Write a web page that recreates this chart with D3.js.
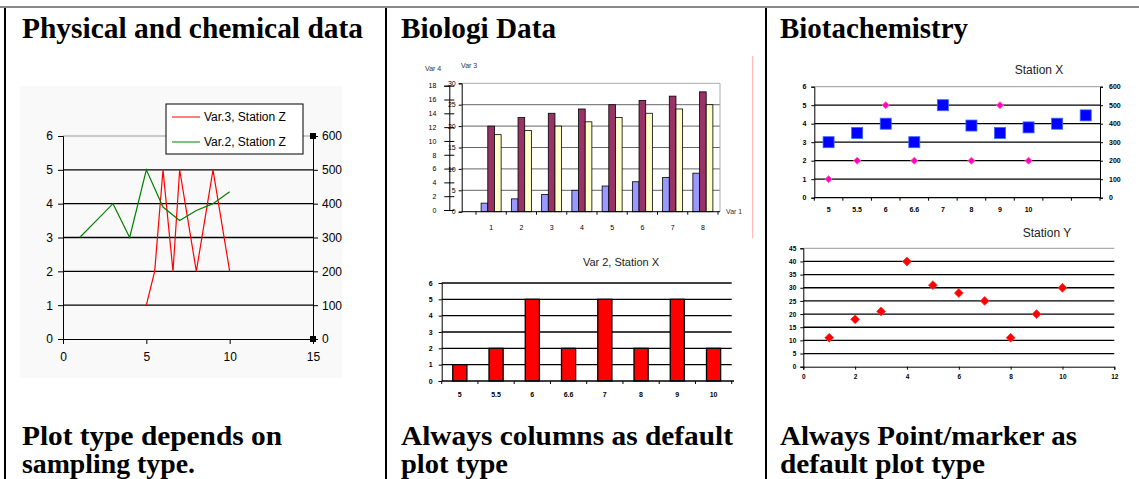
<!DOCTYPE html>
<html><head><meta charset="utf-8">
<script src="https://cdn.jsdelivr.net/npm/d3@7"></script>
<style>body{margin:0;background:#fff}svg{display:block}</style>
</head><body>
<script>
// ---- table text ----
const headers = ["Physical and chemical data", "Biologi Data", "Biotachemistry"];
const headerWidths = [341, 155, 188];
const footers = [["Plot type depends on", "sampling type."], ["Always columns as default", "plot type"], ["Always Point/marker as", "default plot type"]];
const footerWidths = [[260, 173], [332, 107], [297, 205]];

// ---- physical / chemical (line chart) ----
const zVar3X = [5, 5.5, 6, 6.6, 7, 8, 9, 10];
const zVar3 = [1, 2, 5, 2, 5, 2, 5, 2];
const zVar2X = [1, 2, 3, 4, 5, 6, 7, 8, 9, 10];
const zVar2 = [300, 350, 400, 300, 500, 390, 350, 380, 400, 435];
const physYTicks = [0, 1, 2, 3, 4, 5, 6];
const physY2Ticks = [0, 100, 200, 300, 400, 500, 600];
const physXTicks = [0, 5, 10, 15];
const physLegend = ["Var.3, Station Z", "Var.2, Station Z"];

// ---- biologi (grouped columns) ----
const bioCats = ["1", "2", "3", "4", "5", "6", "7", "8"];
const bioVar4 = [2, 3, 4, 5, 6, 7, 8, 9];
const bioVar3a = [20, 22, 23, 24, 25, 26, 27, 28];
const bioVar3b = [18, 19, 20, 21, 22, 23, 24, 25];
const bioY3Ticks = [0, 5, 10, 15, 20, 25, 30];
const bioY4Ticks = [0, 2, 4, 6, 8, 10, 12, 14, 16, 18];

// ---- var 2, station X (columns) ----
const stXCats = ["5", "5.5", "6", "6.6", "7", "8", "9", "10"];
const stXVar2 = [1, 2, 5, 2, 5, 2, 5, 2];
const stXYTicks = [0, 1, 2, 3, 4, 5, 6];

// ---- station X (markers) ----
const mkCats = ["5", "5.5", "6", "6.6", "7", "8", "9", "10", "", ""];
const mkPink = [1, 2, 5, 2, 5, 2, 5, 2];
const mkBlue = [300, 350, 400, 300, 500, 390, 350, 380, 400, 445];
const mkY2Ticks = [0, 100, 200, 300, 400, 500, 600];

// ---- station Y (markers) ----
const stYX = [1, 2, 3, 4, 5, 6, 7, 8, 9, 10];
const stYVals = [11, 18, 21, 40, 31, 28, 25, 11, 20, 30];
const stYYTicks = [0, 5, 10, 15, 20, 25, 30, 35, 40, 45];
const stYXTicks = [0, 2, 4, 6, 8, 10, 12];

const svg = d3.select("body").append("svg").attr("width", 1139).attr("height", 479);
const SANS = "'Liberation Sans', Arial, sans-serif";
const SERIF = "'Liberation Serif', 'Times New Roman', serif";
const plain = d => String(d);

function styleAxis(g, size, weight) {
    g.select(".domain").attr("stroke", "#000");
    g.selectAll(".tick line").attr("stroke", "#000");
    g.selectAll("text").attr("font-family", SANS).attr("font-size", size)
        .attr("font-weight", weight || "normal").attr("fill", "#000");
}

// ===== table =====
svg.append("line").attr("x1", 0).attr("x2", 1139).attr("y1", 7).attr("y2", 7)
    .attr("stroke", "#888").attr("stroke-width", 2);
[5, 386, 766].forEach(x => {
    svg.append("line").attr("x1", x).attr("x2", x).attr("y1", 8).attr("y2", 479)
        .attr("stroke", "#000").attr("stroke-width", 2);
});
const colX = [22, 401, 780];
headers.forEach((h, i) => {
    svg.append("text").attr("x", colX[i]).attr("y", 38).text(h)
        .attr("font-family", SERIF).attr("font-weight", "bold").attr("font-size", 29)
        .attr("textLength", headerWidths[i]).attr("lengthAdjust", "spacingAndGlyphs");
});
footers.forEach((lines, i) => {
    lines.forEach((t, j) => {
        svg.append("text").attr("x", colX[i]).attr("y", 445 + j * 28).text(t)
            .attr("font-family", SERIF).attr("font-weight", "bold").attr("font-size", 27)
            .attr("textLength", footerWidths[i][j]).attr("lengthAdjust", "spacingAndGlyphs");
    });
});

// ===== chart 1: physical and chemical =====
const c1 = svg.append("g");
c1.append("rect").attr("x", 20).attr("y", 86).attr("width", 322).attr("height", 292).attr("fill", "#f9f9f9");
const x1 = d3.scaleLinear().domain([0, 15]).range([63, 313]);
const y1 = d3.scaleLinear().domain([0, 6]).range([339, 136]);
const y1r = d3.scaleLinear().domain([0, 600]).range([339, 136]);

c1.selectAll(".grid").data(physYTicks.slice(1)).join("line")
    .attr("x1", x1(0)).attr("x2", x1(15))
    .attr("y1", d => y1(d)).attr("y2", d => y1(d))
    .attr("stroke", d => d === 6 ? "#999" : "#000").attr("stroke-width", d => d === 6 ? 1 : 1.3);

c1.append("g").attr("transform", `translate(${x1(0)},0)`)
    .call(d3.axisLeft(y1).tickValues(physYTicks).tickFormat(plain).tickSize(5).tickPadding(5))
    .call(g => styleAxis(g, 12));
c1.append("g").attr("transform", `translate(${x1(15)},0)`)
    .call(d3.axisRight(y1r).tickValues(physY2Ticks).tickFormat(plain).tickSize(5).tickPadding(4))
    .call(g => styleAxis(g, 12));
c1.append("g").attr("transform", `translate(0,${y1(0)})`)
    .call(d3.axisBottom(x1).tickValues(physXTicks).tickFormat(plain).tickSize(5).tickPadding(8))
    .call(g => styleAxis(g, 12));
// selection handles on secondary axis
[0, 600].forEach(v => {
    c1.append("rect").attr("x", x1(15) - 3).attr("y", y1r(v) - 3).attr("width", 6).attr("height", 6).attr("fill", "#000");
});

const lineRed = d3.line().x((d, i) => x1(zVar3X[i])).y(d => y1(d));
c1.append("path").attr("d", lineRed(zVar3)).attr("fill", "none").attr("stroke", "#ff0000").attr("stroke-width", 1.2);
const lineGreen = d3.line().x((d, i) => x1(zVar2X[i])).y(d => y1r(d));
c1.append("path").attr("d", lineGreen(zVar2)).attr("fill", "none").attr("stroke", "#008000").attr("stroke-width", 1.2);

const lg = c1.append("g");
lg.append("rect").attr("x", 166).attr("y", 104).attr("width", 137).attr("height", 50)
    .attr("fill", "#fff").attr("stroke", "#000");
const legCol = ["#ff0000", "#008000"];
physLegend.forEach((t, i) => {
    const yy = 117 + i * 25;
    lg.append("line").attr("x1", 172).attr("x2", 200).attr("y1", yy).attr("y2", yy).attr("stroke", legCol[i]);
    lg.append("text").attr("x", 204).attr("y", yy + 4).text(t)
        .attr("font-family", SANS).attr("font-size", 12);
});

// ===== chart 2: biologi grouped columns =====
const c2 = svg.append("g");
const x2 = d3.scaleBand().domain(bioCats).range([476, 718]);
const x2in = d3.scaleBand().domain([0, 1, 2]).range([0, 20]);
const y2 = d3.scaleLinear().domain([0, 30]).range([211.7, 83.3]);
const y4 = d3.scaleLinear().domain([0, 18]).range([210, 85.7]);

c2.selectAll(".grid").data(bioY3Ticks.slice(1)).join("line")
    .attr("x1", 461.7).attr("x2", 720).attr("y1", d => y2(d)).attr("y2", d => y2(d))
    .attr("stroke", d => d === 30 ? "#aaa" : "#666").attr("stroke-width", 1);
c2.append("line").attr("x1", 720).attr("x2", 720).attr("y1", y2(30)).attr("y2", y2(0)).attr("stroke", "#aaa");

const series = [bioVar4, bioVar3a, bioVar3b];
const bioCol = ["#9999ff", "#993366", "#ffffcc"];
series.forEach((s, k) => {
    c2.selectAll(".bar" + k).data(s).join("rect")
        .attr("x", (d, i) => x2(bioCats[i]) + (x2.bandwidth() - 20) / 2 + x2in(k))
        .attr("width", x2in.bandwidth())
        .attr("y", d => y2(d)).attr("height", d => y2(0) - y2(d))
        .attr("fill", bioCol[k]).attr("stroke", "#000").attr("stroke-width", 0.8);
});

c2.append("g").attr("transform", "translate(461.7,0)")
    .call(d3.axisLeft(y2).tickValues(bioY3Ticks).tickFormat(plain).tickSize(3).tickPadding(3))
    .call(g => styleAxis(g, 7));
c2.append("g").attr("transform", "translate(449.3,0)")
    .call(d3.axisLeft(y4).tickValues(bioY4Ticks).tickFormat(plain).tickSize(5).tickPadding(8))
    .call(g => styleAxis(g, 7))
    .call(g => g.selectAll(".tick line").attr("x1", 5));
c2.append("line").attr("x1", 461.7).attr("x2", 720).attr("y1", y2(0)).attr("y2", y2(0)).attr("stroke", "#000");
c2.selectAll(".xt").data(bioCats.concat(["end"])).join("line")
    .attr("x1", d => d === "end" ? x2.range()[1] : x2(d))
    .attr("x2", d => d === "end" ? x2.range()[1] : x2(d))
    .attr("y1", y2(0)).attr("y2", y2(0) + 3).attr("stroke", "#000");
c2.selectAll(".xl").data(bioCats).join("text")
    .attr("x", d => x2(d) + x2.bandwidth() / 2).attr("y", 230).attr("text-anchor", "middle").text(d => d)
    .attr("font-family", SANS).attr("font-size", 7);
[["Var 4", 425, 71], ["Var 3", 461, 68], ["Var 1", 726, 214]].forEach(([t, x, y]) => {
    c2.append("text").attr("x", x).attr("y", y).text(t).attr("font-family", SANS).attr("font-size", 7).attr("fill", "#333");
});
c2.append("line").attr("x1", 752.7).attr("x2", 752.7).attr("y1", 56).attr("y2", 238).attr("stroke", "#ffaaaa");

// ===== chart 3: var 2, station X columns =====
const c3 = svg.append("g");
const x3 = d3.scaleBand().domain(stXCats).range([441.7, 731.7]).paddingInner(0.61).paddingOuter(0.305);
const y3 = d3.scaleLinear().domain([0, 6]).range([381, 283]);
c3.selectAll(".grid").data(stXYTicks.slice(1)).join("line")
    .attr("x1", 441.7).attr("x2", 731.7).attr("y1", d => y3(d)).attr("y2", d => y3(d))
    .attr("stroke", "#000").attr("stroke-width", 1.3);
c3.selectAll(".bar").data(stXVar2).join("rect")
    .attr("x", (d, i) => x3(stXCats[i])).attr("width", x3.bandwidth())
    .attr("y", d => y3(d)).attr("height", d => y3(0) - y3(d))
    .attr("fill", "#ff0000").attr("stroke", "#000").attr("stroke-width", 1.3);
c3.append("g").attr("transform", "translate(441.7,0)")
    .call(d3.axisLeft(y3).tickValues(stXYTicks).tickFormat(plain).tickSize(3).tickPadding(6))
    .call(g => styleAxis(g, 7, "bold"));
c3.append("line").attr("x1", 441.7).attr("x2", 734).attr("y1", y3(0)).attr("y2", y3(0)).attr("stroke", "#000").attr("stroke-width", 1.3);
const step3 = x3.step();
c3.selectAll(".xt").data(d3.range(stXCats.length + 1)).join("line")
    .attr("x1", i => 441.7 + i * step3).attr("x2", i => 441.7 + i * step3)
    .attr("y1", y3(0)).attr("y2", y3(0) + 3).attr("stroke", "#000");
c3.selectAll(".xl").data(stXCats).join("text")
    .attr("x", d => x3(d) + x3.bandwidth() / 2).attr("y", 397).attr("text-anchor", "middle").text(d => d)
    .attr("font-family", SANS).attr("font-size", 7).attr("font-weight", "bold");
c3.append("text").attr("x", 621).attr("y", 266).attr("text-anchor", "middle").text("Var 2, Station X")
    .attr("font-family", SANS).attr("font-size", 11).attr("fill", "#222");

// ===== chart 4: station X markers =====
const c4 = svg.append("g");
const x4 = d3.scaleBand().domain(d3.range(mkCats.length)).range([814.3, 1100]);
const y4l = d3.scaleLinear().domain([0, 6]).range([197.7, 86.7]);
const y4r = d3.scaleLinear().domain([0, 600]).range([197.7, 86.7]);
c4.selectAll(".grid").data(stXYTicks.slice(1)).join("line")
    .attr("x1", 814.3).attr("x2", 1100).attr("y1", d => y4l(d)).attr("y2", d => y4l(d))
    .attr("stroke", d => d === 6 ? "#999" : "#000").attr("stroke-width", d => d === 6 ? 1 : 1.3);
c4.append("g").attr("transform", "translate(814.3,0)")
    .call(d3.axisLeft(y4l).tickValues(stXYTicks).tickFormat(plain).tickSize(3).tickPadding(5))
    .call(g => styleAxis(g, 7, "bold"));
c4.append("g").attr("transform", "translate(1100,0)")
    .call(d3.axisRight(y4r).tickValues(mkY2Ticks).tickFormat(plain).tickSize(3).tickPadding(6))
    .call(g => styleAxis(g, 7, "bold"));
c4.append("line").attr("x1", 814.3).attr("x2", 1100).attr("y1", y4l(0)).attr("y2", y4l(0)).attr("stroke", "#000").attr("stroke-width", 1.3);
c4.selectAll(".xt").data(d3.range(mkCats.length + 1)).join("line")
    .attr("x1", i => 814.3 + i * x4.step()).attr("x2", i => 814.3 + i * x4.step())
    .attr("y1", y4l(0)).attr("y2", y4l(0) + 3).attr("stroke", "#000");
c4.selectAll(".xl").data(mkCats).join("text")
    .attr("x", (d, i) => x4(i) + x4.bandwidth() / 2).attr("y", 212).attr("text-anchor", "middle").text(d => d)
    .attr("font-family", SANS).attr("font-size", 7).attr("font-weight", "bold");
const diamond = d3.symbol().type(d3.symbolDiamond2);
c4.selectAll(".pink").data(mkPink).join("path")
    .attr("d", diamond.size(32)())
    .attr("transform", (d, i) => `translate(${x4(i) + x4.bandwidth() / 2},${y4l(d)})`)
    .attr("fill", "#ff00cc").attr("stroke", "#ff6699").attr("stroke-width", 1);
c4.selectAll(".blue").data(mkBlue).join("rect")
    .attr("x", (d, i) => x4(i) + x4.bandwidth() / 2 - 5.5).attr("y", d => y4r(d) - 5.5)
    .attr("width", 11).attr("height", 11)
    .attr("fill", "#0000ff").attr("stroke", "#3366ff").attr("stroke-width", 0.8);
c4.append("text").attr("x", 1039).attr("y", 74).attr("text-anchor", "middle").text("Station X")
    .attr("font-family", SANS).attr("font-size", 12).attr("fill", "#222");

// ===== chart 5: station Y markers =====
const c5 = svg.append("g");
const x5 = d3.scaleLinear().domain([0, 12]).range([803.3, 1114.3]);
const y5 = d3.scaleLinear().domain([0, 45]).range([366.7, 248.3]);
c5.selectAll(".grid").data(stYYTicks.slice(1)).join("line")
    .attr("x1", x5(0)).attr("x2", x5(12)).attr("y1", d => y5(d)).attr("y2", d => y5(d))
    .attr("stroke", d => d === 45 ? "#999" : "#000").attr("stroke-width", d => d === 45 ? 1 : 1.3);
c5.append("g").attr("transform", `translate(${x5(0)},0)`)
    .call(d3.axisLeft(y5).tickValues(stYYTicks).tickFormat(plain).tickSize(3).tickPadding(4))
    .call(g => styleAxis(g, 6.5, "bold"));
c5.append("g").attr("transform", `translate(0,${y5(0)})`)
    .call(d3.axisBottom(x5).tickValues(stYXTicks).tickFormat(plain).tickSize(3).tickPadding(5))
    .call(g => styleAxis(g, 6.5, "bold"));
c5.selectAll(".pt").data(stYVals).join("path")
    .attr("d", diamond.size(50)())
    .attr("transform", (d, i) => `translate(${x5(stYX[i])},${y5(d)})`)
    .attr("fill", "#ff0000").attr("stroke", "#ff3333").attr("stroke-width", 0.8);
c5.append("text").attr("x", 1047).attr("y", 237).attr("text-anchor", "middle").text("Station Y")
    .attr("font-family", SANS).attr("font-size", 12).attr("fill", "#222");
</script>
</body></html>
